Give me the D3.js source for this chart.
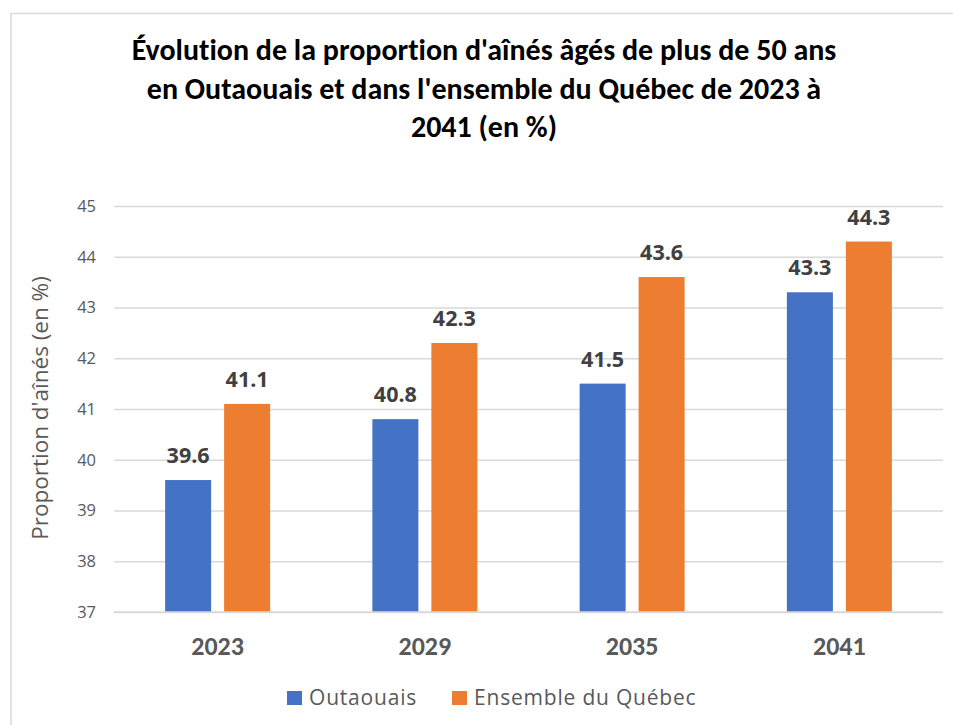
<!DOCTYPE html>
<html>
<head>
<meta charset="utf-8">
<script src="https://cdn.jsdelivr.net/npm/d3@7"></script>
<style>
  body { margin: 0; background: #ffffff; }
  svg { display: block; }
  text { font-variant-ligatures: none; }
</style>
</head>
<body>
<div class="chart"></div>
<script>
var svgWidth = 953;
var svgHeight = 725;

// data
var years = ["2023", "2029", "2035", "2041"];
var seriesNames = ["Outaouais", "Ensemble du Québec"];
var outaouais = [39.6, 40.8, 41.5, 43.3];
var quebec = [41.1, 42.3, 43.6, 44.3];
var yTicks = [37, 38, 39, 40, 41, 42, 43, 44, 45];
var colors = ["#4472C4", "#ED7D31"];
var titleLines = [
    "Évolution de la proportion d'aînés âgés de plus de 50 ans",
    "en Outaouais et dans l'ensemble du Québec de 2023 à",
    "2041 (en %)"
];

var margin = { top: 206, right: 10, bottom: 113, left: 114 };
var width = svgWidth - margin.left - margin.right;
var height = svgHeight - margin.top - margin.bottom;

var calibri = "Carlito, Calibri, Lato, 'Liberation Sans', sans-serif";
var segoe = "'Segoe UI', 'Open Sans', 'Noto Sans', sans-serif";

var svg = d3.select(".chart")
    .append("svg")
    .attr("width", svgWidth)
    .attr("height", svgHeight);

// chart frame
svg.append("rect")
    .attr("x", 11)
    .attr("y", 13.5)
    .attr("width", svgWidth + 20)
    .attr("height", svgHeight + 20)
    .attr("fill", "#ffffff")
    .attr("stroke", "#d9d9d9")
    .attr("stroke-width", 1.5);

var chartGroup = svg.append("g")
    .attr("transform", `translate(${margin.left}, ${margin.top})`);

// scales
var yScale = d3.scaleLinear()
    .domain([37, 45])
    .range([height, 0]);

var x0 = d3.scaleBand()
    .domain(years)
    .range([0, width])
    .padding(0);

var clusterW = 105;
var x1 = d3.scaleBand()
    .domain(seriesNames)
    .range([0, clusterW])
    .paddingInner(0.22);

var rows = years.map(function(y, i) {
    return { year: y, values: [outaouais[i], quebec[i]] };
});

// gridlines
chartGroup.append("g")
    .call(d3.axisLeft(yScale).tickValues(yTicks).tickSize(-width).tickFormat(""))
    .call(g => g.select(".domain").remove())
    .selectAll("line")
    .attr("stroke", "#d9d9d9")
    .attr("stroke-width", 1.5);

// y tick labels
var yAxis = chartGroup.append("g")
    .call(d3.axisLeft(yScale).tickValues(yTicks).tickSize(0).tickPadding(18));
yAxis.select(".domain").remove();
yAxis.selectAll("text")
    .attr("fill", "#595959")
    .style("font-family", segoe)
    .style("font-size", "16.5px");

// bars
var groups = chartGroup.selectAll(".grp")
    .data(rows)
    .enter()
    .append("g")
    .attr("transform", d => `translate(${x0(d.year) + (x0.bandwidth() - clusterW) / 2}, 0)`);

groups.selectAll("rect")
    .data(d => d.values.map((v, j) => ({ key: seriesNames[j], value: v, idx: j })))
    .enter()
    .append("rect")
    .attr("x", d => x1(d.key))
    .attr("y", d => yScale(d.value))
    .attr("width", x1.bandwidth())
    .attr("height", d => height - yScale(d.value))
    .attr("fill", d => colors[d.idx]);

groups.selectAll(".lbl")
    .data(d => d.values.map((v, j) => ({ key: seriesNames[j], value: v })))
    .enter()
    .append("text")
    .attr("x", d => x1(d.key) + x1.bandwidth() / 2)
    .attr("y", d => yScale(d.value) - 17)
    .attr("text-anchor", "middle")
    .attr("fill", "#404040")
    .style("font-family", segoe)
    .style("font-weight", "bold")
    .style("font-size", "21.5px")
    .text(d => d3.format(".1f")(d.value));

// baseline
chartGroup.append("line")
    .attr("x1", 0)
    .attr("x2", width)
    .attr("y1", height)
    .attr("y2", height)
    .attr("stroke", "#d9d9d9")
    .attr("stroke-width", 1.5);

// x labels
var xAxis = chartGroup.append("g")
    .attr("transform", `translate(0, ${height})`)
    .call(d3.axisBottom(x0).tickSize(0).tickPadding(0));
xAxis.select(".domain").remove();
xAxis.selectAll("text")
    .attr("dy", null)
    .attr("y", 43)
    .attr("fill", "#595959")
    .style("font-family", calibri)
    .style("font-weight", "bold")
    .style("font-size", "26px");

// y axis title
svg.append("text")
    .attr("transform", "translate(48, 408) rotate(-90)")
    .attr("text-anchor", "middle")
    .attr("fill", "#595959")
    .style("font-family", segoe)
    .style("font-size", "22.5px")
    .text("Proportion d'aînés (en %)");

// title
svg.append("text")
    .attr("text-anchor", "middle")
    .style("font-family", calibri)
    .style("font-weight", "bold")
    .style("font-size", "30px")
    .attr("fill", "#000000")
    .selectAll("tspan")
    .data(titleLines)
    .enter()
    .append("tspan")
    .attr("x", 484)
    .attr("y", (d, i) => 60 + i * 38.5)
    .text(d => d);

// legend
var legend = svg.append("g")
    .attr("transform", "translate(287, 691)");
var legX = [0, 165];
seriesNames.forEach(function(name, i) {
    legend.append("rect")
        .attr("x", legX[i])
        .attr("y", 0)
        .attr("width", 15)
        .attr("height", 14)
        .attr("fill", colors[i]);
    legend.append("text")
        .attr("x", legX[i] + 22)
        .attr("y", 14)
        .attr("fill", "#595959")
        .style("font-family", segoe)
        .style("font-size", "21px")
        .style("letter-spacing", "0.8px")
        .text(name);
});
</script>
</body>
</html>
